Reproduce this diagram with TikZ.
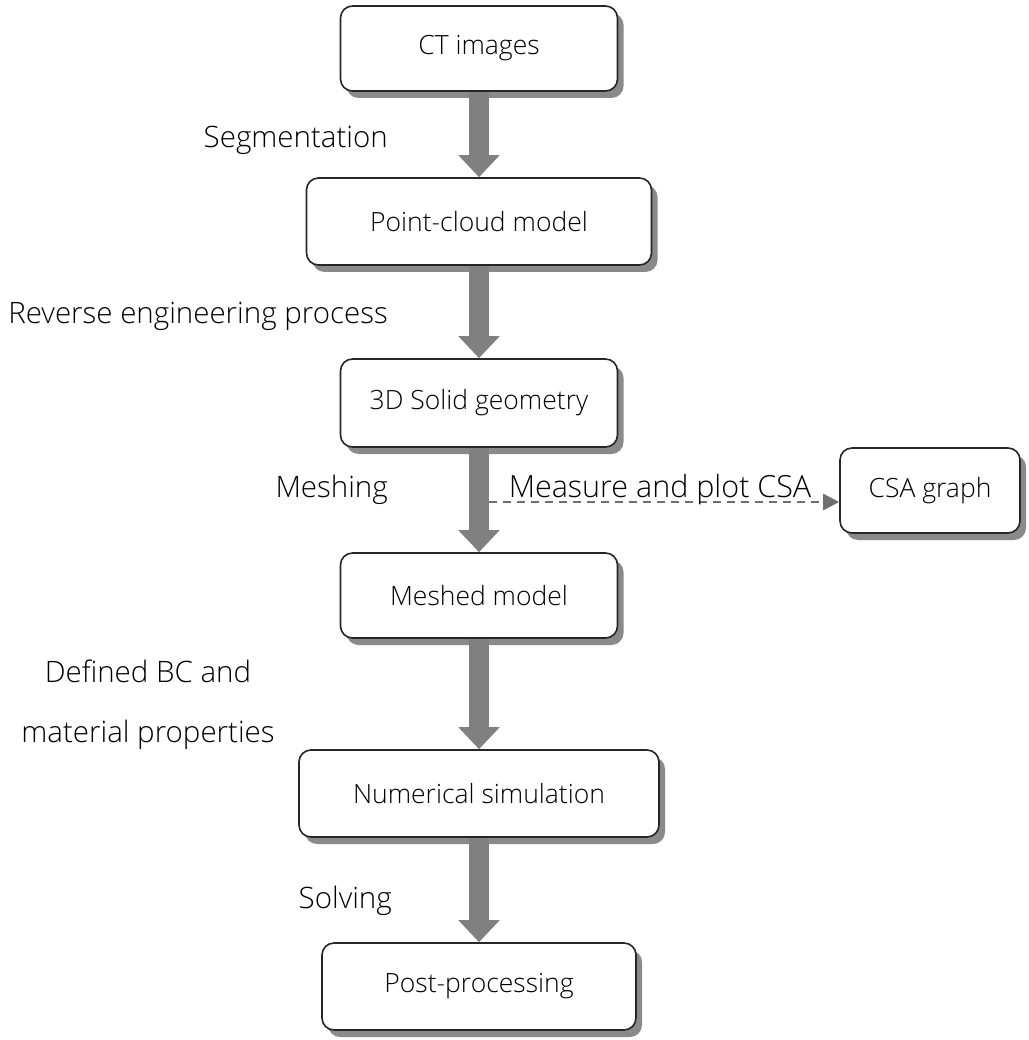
\documentclass[tikz,border=0pt]{standalone}
\usepackage{fontspec}
\setmainfont{Open Sans}[UprightFont={* Light}]
\usetikzlibrary{arrows.meta,shadows}
\definecolor{arrowgray}{HTML}{808080}
\definecolor{shadowgray}{HTML}{8A8A8A}
\definecolor{dashgray}{HTML}{6E6E6E}
\begin{document}
\begin{tikzpicture}[x=1pt,y=-1pt,
  procbox/.style={draw=black!85, line width=1.6pt, rounded corners=12pt, fill=white,
    inner sep=0pt, align=center, font=\fontsize{26.5}{32}\selectfont,
    drop shadow={shadow xshift=6pt, shadow yshift=-7pt, fill=shadowgray, opacity=1}},
  bigarrow/.style={draw=arrowgray, line width=20pt, -{Triangle[width=40pt,length=22pt]}},
  dasharrow/.style={draw=dashgray, line width=2.5pt, dash pattern=on 8pt off 6pt,
    -{Triangle[width=16pt,length=16pt]}},
  lbl/.style={font=\fontsize{29.5}{35}\selectfont, inner sep=0pt},
]
\useasboundingbox (0,0) rectangle (1028,1040);

\node[procbox, minimum width=277pt, minimum height=85pt] (ct)   at (479,48.5)  {CT images};
\node[procbox, minimum width=345pt, minimum height=87pt] (pc)   at (479,221.5) {Point-cloud model};
\node[procbox, minimum width=277pt, minimum height=88pt] (geo)  at (479,403)   {3D Solid geometry};
\node[procbox, minimum width=277pt, minimum height=85pt] (mesh) at (479,595.5) {Meshed model};
\node[procbox, minimum width=360pt, minimum height=87pt] (num)  at (479,793.5) {Numerical simulation};
\node[procbox, minimum width=314pt, minimum height=87pt] (post) at (479,986.5) {Post-processing};
\node[procbox, minimum width=180pt, minimum height=85pt] (csa)  at (930,490.5) {CSA graph};

\draw[bigarrow] (ct) -- (pc);
\draw[bigarrow] (pc) -- (geo);
\draw[bigarrow] (geo) -- (mesh);
\draw[bigarrow] (mesh) -- (num);
\draw[bigarrow] (num) -- (post);

\coordinate (m) at (489,502);
\draw[dasharrow] (m) -- (m -| csa.west);
\node[lbl, anchor=base, font=\fontsize{30.5}{36}\selectfont] (meas) at (660,497) {Measure and plot CSA};

\node[lbl, anchor=base east] (seg)   at (388,148) {Segmentation};
\node[lbl, anchor=base east] (rev)   at (388,323) {Reverse engineering process};
\node[lbl, anchor=base east] (meshl) at (388,497) {Meshing};
\node[lbl, anchor=base]      (bc1)   at (148,682) {Defined BC and};
\node[lbl, anchor=base]      (bc2)   at (148,742) {material properties};
\node[lbl, anchor=base east] (solv)  at (392,908) {Solving};
\end{tikzpicture}
\end{document}
